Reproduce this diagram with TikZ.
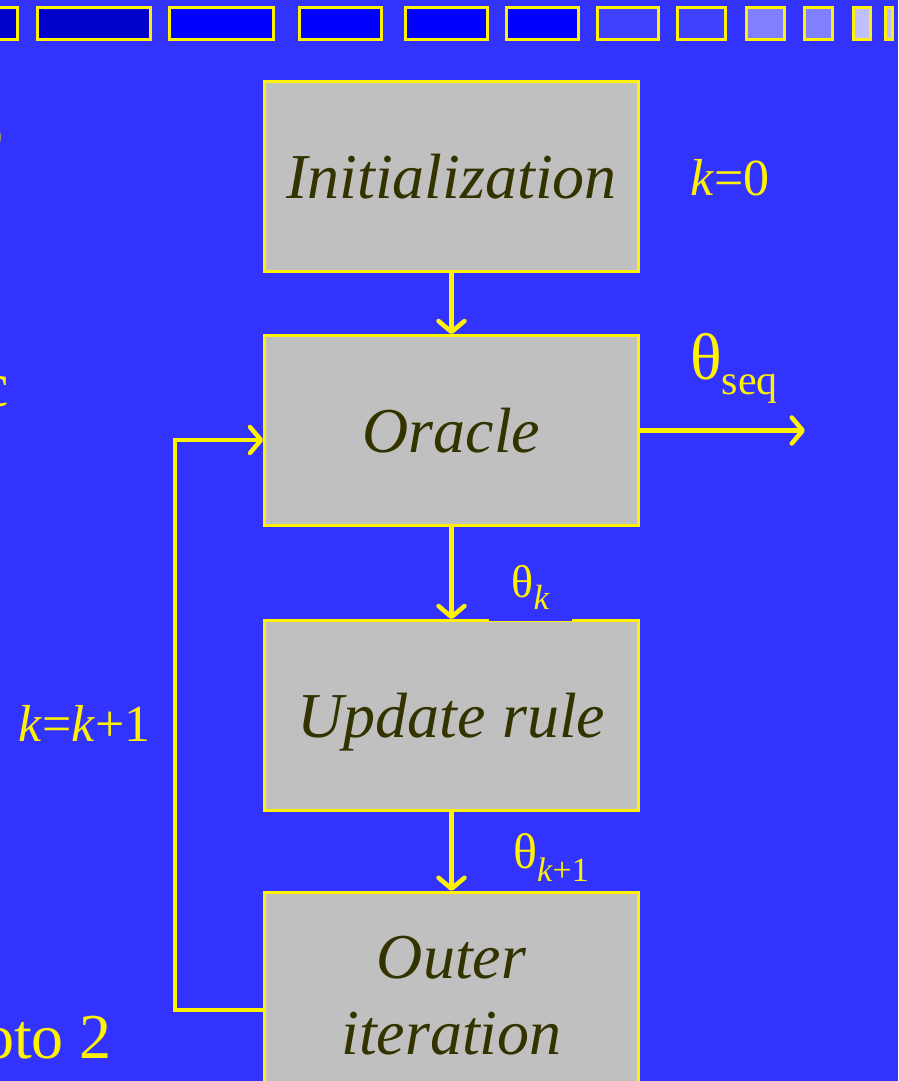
\documentclass[tikz,border=0pt]{standalone}
\usepackage{fontspec}
\setmainfont{Liberation Serif}
\usetikzlibrary{arrows.meta}
\definecolor{slideblue}{HTML}{3333FF}
\definecolor{boxgray}{HTML}{C0C0C0}
\definecolor{boxink}{HTML}{333300}
\definecolor{barA}{HTML}{0000CC}
\definecolor{barB}{HTML}{0000FF}
\definecolor{barC}{HTML}{4040FF}
\definecolor{barD}{HTML}{8080FF}
\definecolor{barE}{HTML}{C0C0FF}
\newcommand{\subtxt}[3]{\raisebox{-#1}{\fontsize{#2}{#2}\selectfont #3}}
\tikzset{
  block/.style={draw=yellow, line width=2.5pt, fill=boxgray, minimum width=374pt,
    minimum height=190pt, inner sep=0pt, text=boxink,
    font=\fontsize{64}{76}\selectfont\itshape},
  flow/.style={draw=yellow, line width=4.5pt, -{Straight Barb[length=11pt,width=26pt,round]}},
  tag/.style={text=yellow, font=\fontsize{52}{60}\selectfont, inner sep=0pt},
  barbox/.style={draw=yellow, line width=3pt}
}
\begin{document}
\begin{tikzpicture}[x=1pt,y=-1pt]
      \clip (0,0) rectangle (898,1081);
      \fill[slideblue] (0,0) rectangle (898,1081);
      % top bar
      \draw[barbox, fill=barA] (-10,7.5) rectangle (17.5,39.5);
      \draw[barbox, fill=barA] (37.5,7.5) rectangle (150.5,39.5);
      \draw[barbox, fill=barB] (169.5,7.5) rectangle (273.5,39.5);
      \draw[barbox, fill=barB] (299.5,7.5) rectangle (381.5,39.5);
      \draw[barbox, fill=barB] (405.5,7.5) rectangle (487.5,39.5);
      \draw[barbox, fill=barB] (506.5,7.5) rectangle (578.5,39.5);
      \draw[barbox, fill=barC] (597.5,7.5) rectangle (658.5,39.5);
      \draw[barbox, fill=barC] (677.5,7.5) rectangle (725.5,39.5);
      \draw[barbox, fill=barD] (746.5,7.5) rectangle (784.5,39.5);
      \draw[barbox, fill=barD] (804.5,7.5) rectangle (832.5,39.5);
      \draw[barbox, fill=barE] (853.5,7.5) rectangle (870.5,39.5);
      \draw[barbox, fill=barE] (885.5,7.5) rectangle (892.5,39.5);
      % cut-off slide text on the left
      \node[tag, font=\fontsize{64}{76}\selectfont, anchor=base east] (lefto) at (4,152) {o};
      \node[tag, font=\fontsize{64}{76}\selectfont, anchor=base east] (leftc) at (9,406) {c};
      \node[tag, font=\fontsize{64}{76}\selectfont, anchor=base east] (goto) at (112,1058) {oto 2};
      % blocks
      \node[block] (init) at (451.5,176.5) {Initialization};
      \node[block] (oracle) at (451.5,430.5) {Oracle};
      \node[block, text depth=0pt] (update) at (451.5,715.5) {Update rule};
      \node[block, minimum height=220pt, anchor=north] (outer) at (451.5,891) {};
      \node[block, draw=none, fill=none, align=center] (outertext) at (451.5,996) {Outer\\iteration};
      \coordinate (seqend) at (805,430.5);
      \coordinate (loopbot) at (175,1010);
      \coordinate (looptop) at (175,440);
      % connectors
      \draw[flow] (init) -- (oracle);
      \draw[flow] (oracle) -- (update);
      \draw[flow] (update) -- (outer);
      \draw[flow] (oracle.east) -- (seqend);
      \draw[flow] (outer.west |- loopbot) -- (loopbot) -- (looptop) -- (oracle.west |- looptop);
      % labels
      \node[tag, anchor=base west] (kzero) at (690,195) {\textit{k}=0};
      \node[tag, anchor=base west, font=\fontsize{66}{66}\selectfont] (thseq) at (690,379) {θ\subtxt{15pt}{42}{seq}};
      \node[tag, fill=slideblue, anchor=south, minimum width=83pt, inner ysep=11pt, font=\fontsize{46}{46}\selectfont] (thk) at (530.5,621) {θ\subtxt{12pt}{35}{\textit{k}}};
      \node[tag, anchor=base west, font=\fontsize{50}{50}\selectfont] (thknext) at (513,868) {θ\subtxt{13pt}{34}{\textit{k}+1}};
      \node[tag, anchor=base west] (kstep) at (18,741) {\textit{k}=\textit{k}+1};
    \end{tikzpicture}
\end{document}
